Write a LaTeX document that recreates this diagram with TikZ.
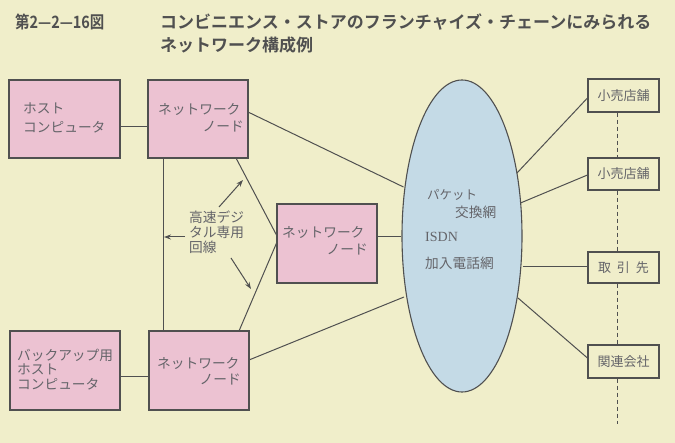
\documentclass[tikz,border=0pt]{standalone}
\usepackage{fontspec}
\setmainfont{Liberation Serif}
\newfontfamily\jp{Noto Sans CJK JP}
\newfontfamily\jpb{Noto Sans CJK JP Bold}
\usetikzlibrary{shapes.geometric,arrows.meta}
\definecolor{bg}{RGB}{240,238,202}
\definecolor{pinkbox}{RGB}{236,194,210}
\definecolor{bluell}{RGB}{196,218,230}
\definecolor{ln}{RGB}{80,80,80}
\definecolor{tx}{RGB}{100,100,105}
\tikzset{
  pbox/.style={draw=ln,line width=1.1pt,fill=pinkbox,minimum width=100pt,minimum height=78pt,inner sep=0pt},
  wbox/.style={draw=ln,line width=1.1pt,fill=bg,minimum width=71pt,minimum height=32pt,inner sep=0pt,font=\jp\fontsize{13}{13}\selectfont,text=tx},
  lbl/.style={inner sep=0pt,font=\jp\fontsize{13.7}{15}\selectfont,text=tx},
  conn/.style={draw=ln,line width=1pt},
  arr/.style={draw=ln,line width=1pt,-{Stealth[length=7pt,width=5pt]}},
}
\begin{document}
\begin{tikzpicture}[x=1pt,y=-1pt]
\useasboundingbox (0,0) rectangle (675,443);
\fill[bg] (0,0) rectangle (675,443);
% title
\node[anchor=west,inner sep=0pt,font=\jpb\fontsize{17}{17}\selectfont,text=ln] (t1) at (15,22) {\scalebox{0.85}[1]{第2—2—16図}};
\node[anchor=west,inner sep=0pt,font=\jpb\fontsize{17}{17}\selectfont,text=ln] (t2) at (160,22) {コンビニエンス・ストアのフランチャイズ・チェーンにみられる};
\node[anchor=west,inner sep=0pt,font=\jpb\fontsize{17}{17}\selectfont,text=ln] (t3) at (160,45) {ネットワーク構成例};
% boxes
\node[pbox,minimum width=111pt] (host) at (64.5,119) {};
\node[pbox] (n1) at (198,119) {};
\node[pbox,minimum height=79pt] (n2) at (327,243.5) {};
\node[pbox,minimum width=110pt,minimum height=79pt] (bk) at (65,370.5) {};
\node[pbox,minimum height=79pt] (n3) at (199,370.5) {};
\node[ellipse,draw=ln,line width=1.1pt,fill=bluell,minimum width=120pt,minimum height=312pt,inner sep=0pt] (net) at (462,236) {};
\node[wbox,minimum height=33pt] (r1) at (623.5,95.5) {小売店舗};
\node[wbox] (r2) at (623.5,174) {小売店舗};
\node[wbox,minimum height=31pt] (r3) at (623.5,267.5) {取\hspace{0.45em}引\hspace{0.45em}先};
\node[wbox,minimum height=33pt] (r4) at (623.5,361.5) {関連会社};
% box texts
\node[lbl,anchor=west] (h1) at (23,108) {ホスト};
\node[lbl,anchor=west] (h2) at (23,127) {コンピュータ};
\node[lbl,anchor=west] (a1) at (158,109) {ネットワーク};
\node[lbl,anchor=east] (a2) at (244,127) {ノード};
\node[lbl,anchor=west] (b1) at (282,232) {ネットワーク};
\node[lbl,anchor=east] (b2) at (368,250) {ノード};
\node[lbl,anchor=west] (c1) at (157,363) {ネットワーク};
\node[lbl,anchor=east] (c2) at (241,380) {ノード};
\node[lbl,anchor=west] (k1) at (17,355) {バックアップ用};
\node[lbl,anchor=west] (k2) at (17,369) {ホスト};
\node[lbl,anchor=west] (k3) at (17,384) {コンピュータ};
% ellipse text
\node[inner sep=0pt,anchor=west,font=\jp\fontsize{12.5}{12.5}\selectfont,text=tx] (e1) at (427,195) {パケット};
\node[lbl,anchor=west] (e2) at (455,212) {交換網};
\node[inner sep=0pt,anchor=west,font=\fontsize{14}{14}\selectfont,text=tx] (e3) at (425,237) {ISDN};
\node[lbl,anchor=west] (e4) at (425,263) {加入電話網};
% label
\node[lbl,anchor=west] (g1) at (189,217) {高速デジ};
\node[lbl,anchor=west] (g2) at (189,232) {タル専用};
\node[lbl,anchor=west] (g3) at (189,247) {回線};
% connectors
\draw[conn] (host.east |- 0,127) -- (n1.west |- 0,127);
\draw[conn] (bk.east |- 0,377) -- (n3.west |- 0,377);
\draw[conn] (n1.south -| 163,0) -- (n3.north -| 163,0);
\coordinate (p1) at (236,158);
\coordinate (p2) at (277,236);
\coordinate (p3) at (277,242);
\coordinate (p4) at (239,331);
\draw[conn] (p1) -- (p2);
\draw[conn] (p3) -- (p4);
\coordinate (q1) at (248,112);
\coordinate (q2) at (403.5,187);
\draw[conn] (q1) -- (q2);
\draw[conn] (n2.east |- 0,237) -- (net.west |- 0,237);
\coordinate (q3) at (249,360);
\coordinate (q4) at (404,297);
\draw[conn] (q3) -- (q4);
\coordinate (s1) at (517,173);
\draw[conn] (s1) -- (r1.west |- 0,98);
\coordinate (s2) at (520.5,203);
\draw[conn] (s2) -- (r2.west |- 0,175);
\draw[conn] (net.east |- 0,267) -- (r3.west |- 0,267);
\coordinate (s4) at (518,298);
\draw[conn] (s4) -- (r4.west |- 0,358);
% dashed
\draw[ln,line width=0.9pt,dash pattern=on 4pt off 3pt] (r1.south -| 617,0) -- (r2.north -| 617,0);
\draw[ln,line width=0.9pt,dash pattern=on 4pt off 3pt] (r2.south -| 617,0) -- (r3.north -| 617,0);
\draw[ln,line width=0.9pt,dash pattern=on 4pt off 3pt] (r3.south -| 617,0) -- (r4.north -| 617,0);
\coordinate (dend) at (617,424);
\draw[ln,line width=0.9pt,dash pattern=on 4pt off 3pt] (r4.south -| 617,0) -- (dend);
% arrows
\coordinate (u0) at (219,207);
\coordinate (u1) at (243,180);
\draw[arr] (u0) -- (u1);
\coordinate (d0) at (231,258);
\coordinate (d1) at (251,289);
\draw[arr] (d0) -- (d1);
\coordinate (l0) at (185,237);
\coordinate (l1) at (164,237);
\draw[arr] (l0) -- (l1);
\end{tikzpicture}
\end{document}
